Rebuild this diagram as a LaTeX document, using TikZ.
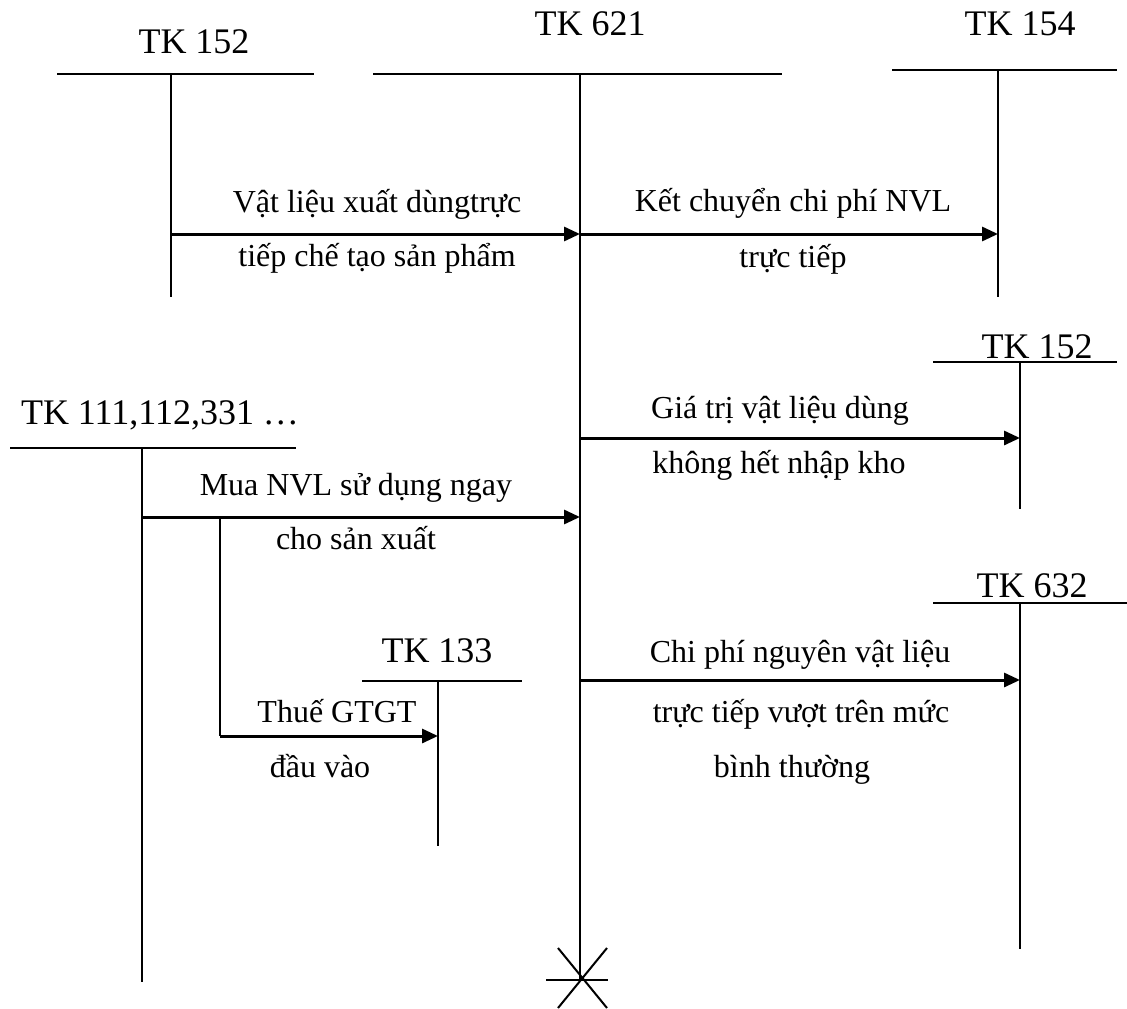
\documentclass[tikz,border=0pt]{standalone}
\usepackage{fontspec}
\setmainfont{Liberation Serif}
\usetikzlibrary{arrows.meta}
\begin{document}
\begin{tikzpicture}[x=1pt,y=-1pt,
  acct/.style={line width=2pt},
  flow/.style={line width=3pt,-{Triangle[length=16pt,width=14pt]}},
  ttl/.style={anchor=base,inner sep=0pt,font=\fontsize{36}{40}\selectfont},
  lbl/.style={anchor=base,inner sep=0pt,font=\fontsize{32}{36}\selectfont}]
\useasboundingbox (0,0) rectangle (1127,1009);

% ---- account titles
\node[ttl] (t152a) at (194,53) {TK 152};
\node[ttl] (t621) at (590,35) {TK 621};
\node[ttl] (t154) at (1020,35) {TK 154};
\node[ttl] (t152b) at (1037,358) {TK 152};
\node[ttl] (t111) at (160,424) {TK 111,112,331 …};
\node[ttl] (t133) at (437,662) {TK 133};
\node[ttl] (t632) at (1032,597) {TK 632};

% ---- T-account coordinates
\coordinate (h152aL) at (57,74);   \coordinate (h152aR) at (314,74);
\coordinate (v152aT) at (171,74);  \coordinate (v152aB) at (171,297);
\coordinate (h621L) at (373,74);   \coordinate (h621R) at (782,74);
\coordinate (v621T) at (580,74);   \coordinate (v621B) at (580,980);
\coordinate (h154L) at (892,70);   \coordinate (h154R) at (1117,70);
\coordinate (v154T) at (998,70);   \coordinate (v154B) at (998,297);
\coordinate (h152bL) at (933,362); \coordinate (h152bR) at (1117,362);
\coordinate (v152bT) at (1020,362);\coordinate (v152bB) at (1020,509);
\coordinate (h111L) at (10,448);   \coordinate (h111R) at (296,448);
\coordinate (v111T) at (142,448);  \coordinate (v111B) at (142,982);
\coordinate (h133L) at (362,681);  \coordinate (h133R) at (522,681);
\coordinate (v133T) at (438,681);  \coordinate (v133B) at (438,846);
\coordinate (h632L) at (933,603);  \coordinate (h632R) at (1127,603);
\coordinate (v632T) at (1020,603); \coordinate (v632B) at (1020,949);

\foreach \a in {152a,621,154,152b,111,133,632}{
  \draw[acct] (h\a L) -- (h\a R);
  \draw[acct] (v\a T) -- (v\a B);
}

% ---- flow points
\coordinate (f1s) at (171,234);  \coordinate (f1e) at (580,234);
\coordinate (f2e) at (998,234);
\coordinate (f3s) at (580,438);  \coordinate (f3e) at (1020,438);
\coordinate (f4s) at (142,517);  \coordinate (f4e) at (580,517);
\coordinate (f5s) at (220,517);  \coordinate (f5k) at (220,736);
\coordinate (f5e) at (438,736);
\coordinate (f6s) at (580,680);  \coordinate (f6e) at (1020,680);

\draw[flow] (f1s) -- (f1e);
\draw[flow] (f1e) -- (f2e);
\draw[flow] (f3s) -- (f3e);
\draw[flow] (f4s) -- (f4e);
\draw[acct] (f5s) -- (f5k);
\draw[flow] (f5k) -- (f5e);
\draw[flow] (f6s) -- (f6e);

% ---- labels
\node[lbl] (l1a) at (377,212) {Vật liệu xuất dùngtrực};
\node[lbl] (l1b) at (377,266) {tiếp chế tạo sản phẩm};
\node[lbl] (l2a) at (793,211) {Kết chuyển chi phí NVL};
\node[lbl] (l2b) at (793,267) {trực tiếp};
\node[lbl] (l3a) at (780,418) {Giá trị vật liệu dùng};
\node[lbl] (l3b) at (779,473) {không hết nhập kho};
\node[lbl] (l4a) at (356,495) {Mua NVL sử dụng ngay};
\node[lbl] (l4b) at (356,549) {cho sản xuất};
\node[lbl] (l5a) at (337,722) {Thuế GTGT};
\node[lbl] (l5b) at (320,777) {đầu vào};
\node[lbl] (l6a) at (800,662) {Chi phí nguyên vật liệu};
\node[lbl] (l6b) at (801,722) {trực tiếp vượt trên mức};
\node[lbl] (l6c) at (792,777) {bình thường};

% ---- closing mark
\coordinate (x1) at (558,948); \coordinate (x2) at (607,1008);
\coordinate (x3) at (607,948); \coordinate (x4) at (558,1008);
\coordinate (x5) at (546,980); \coordinate (x6) at (608,980);
\draw[acct] (x1) -- (x2);
\draw[acct] (x3) -- (x4);
\draw[acct] (x5) -- (x6);
\end{tikzpicture}
\end{document}
